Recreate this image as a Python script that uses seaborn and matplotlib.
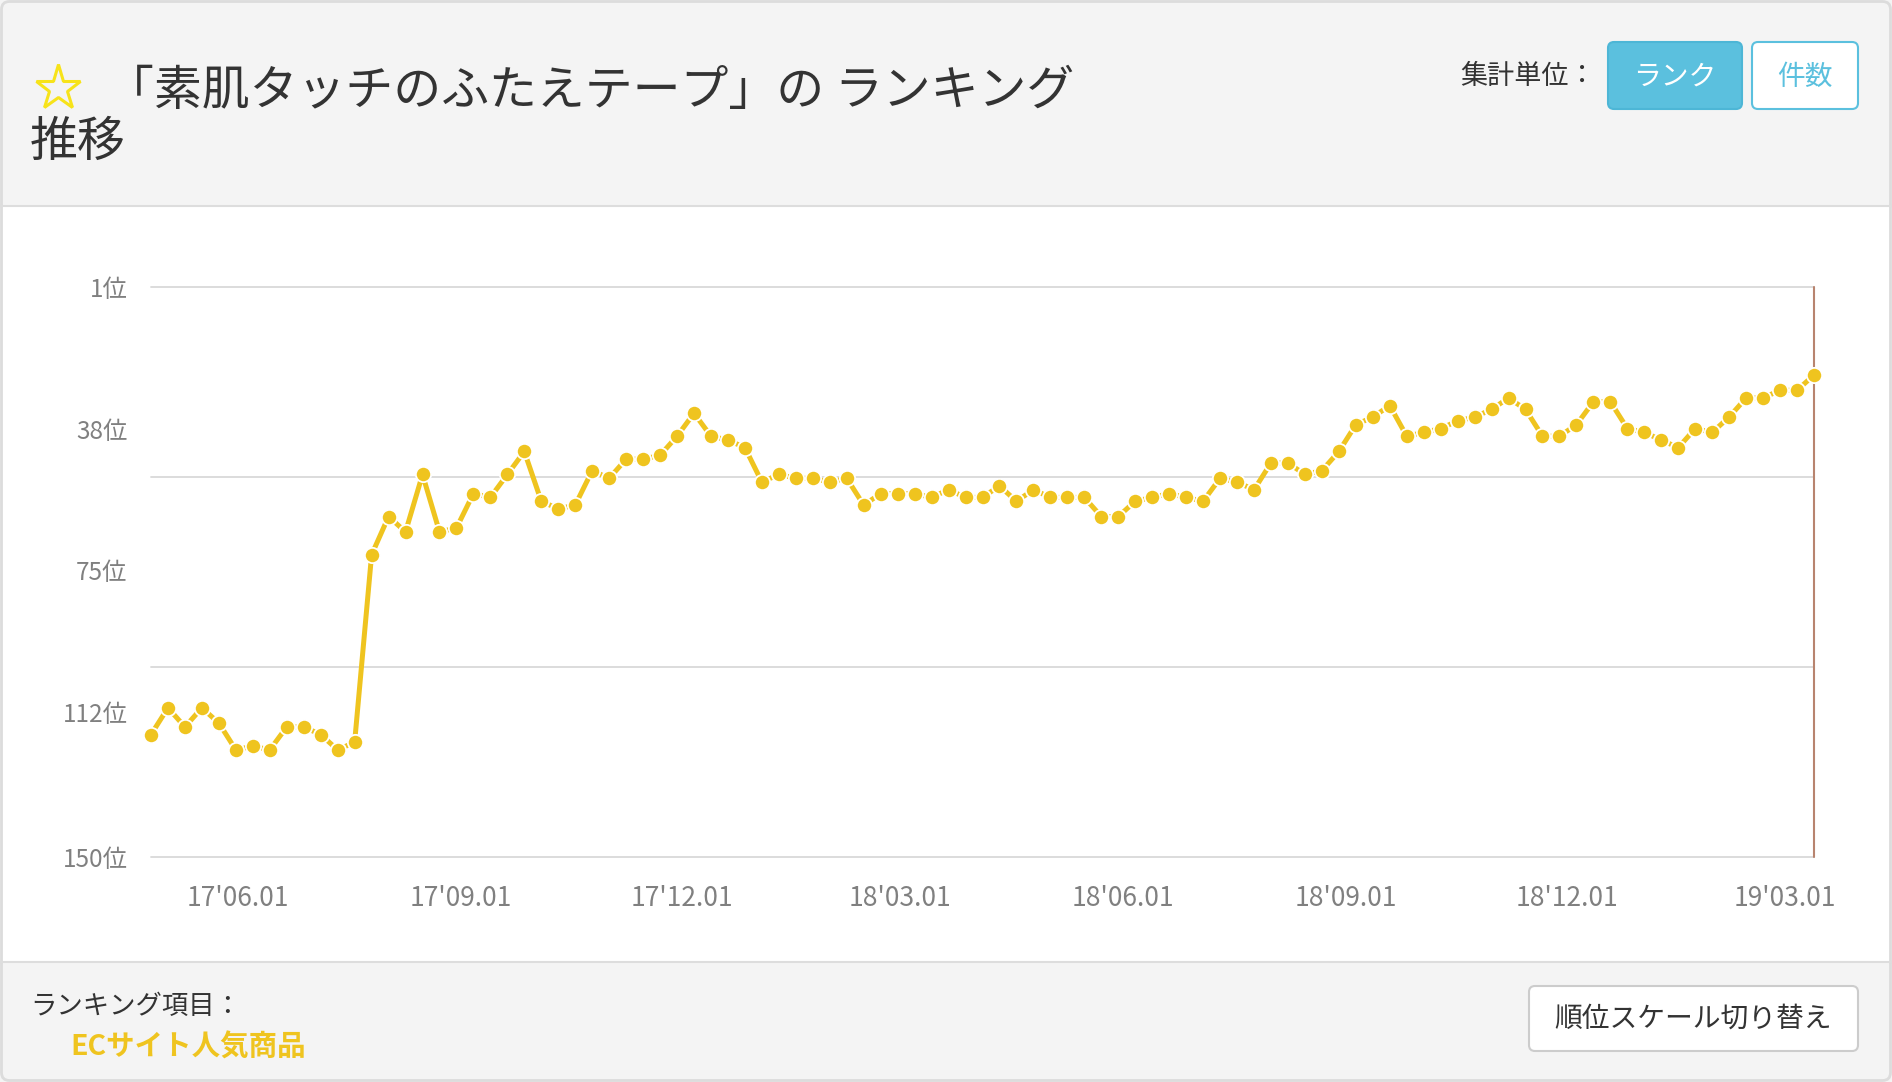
import numpy as np
import pandas as pd
import matplotlib
matplotlib.use("Agg")
import matplotlib.pyplot as plt
import seaborn as sns
from matplotlib.patches import FancyBboxPatch, Rectangle

# ---------------- data ----------------
start_date = "2017-04-26"
ranks = [118, 111, 116, 111, 115, 122, 121, 122, 116, 116,
         118, 122, 120, 71, 61, 65, 50, 65, 64, 55,
         56, 50, 44, 57, 59, 58, 49, 51, 46, 46,
         45, 40, 34, 40, 41, 43, 52, 50, 51, 51,
         52, 51, 58, 55, 55, 55, 56, 54, 56, 56,
         53, 57, 54, 56, 56, 56, 61, 61, 57, 56,
         55, 56, 57, 51, 52, 54, 47, 47, 50, 49,
         44, 37, 35, 32, 40, 39, 38, 36, 35, 33,
         30, 33, 40, 40, 37, 31, 31, 38, 39, 41,
         43, 38, 39, 35, 30, 30, 28, 28, 24]
dates = pd.date_range(start_date, periods=len(ranks), freq="7D")

x_tick_dates = ["2017-06-01", "2017-09-01", "2017-12-01", "2018-03-01",
                "2018-06-01", "2018-09-01", "2018-12-01", "2019-03-01"]
x_tick_labels = ["17'06.01", "17'09.01", "17'12.01", "18'03.01",
                 "18'06.01", "18'09.01", "18'12.01", "19'03.01"]
y_ticks = [1, 38, 75, 112, 150]
y_tick_labels = ["1位", "38位", "75位", "112位", "150位"]

title_line1 = "「素肌タッチのふたえテープ」の ランキング"
title_line2 = "推移"
unit_label = "集計単位："
btn_rank = "ランク"
btn_count = "件数"
footer_label = "ランキング項目："
footer_item = "ECサイト人気商品"
scale_btn = "順位スケール切り替え"

df = pd.DataFrame({"date": dates, "rank": ranks})

# ---------------- style ----------------
sns.set_theme(style="white")
plt.rcParams["font.family"] = ["Noto Sans CJK JP", "DejaVu Sans"]

W, H = 1892, 1082
fig = plt.figure(figsize=(W / 100, H / 100), dpi=100)
fig.patch.set_facecolor("white")

# background / decoration axes in pixel coordinates
bg = fig.add_axes([0, 0, 1, 1], zorder=0)
bg.set_xlim(0, W)
bg.set_ylim(H, 0)
bg.axis("off")

bg.add_patch(Rectangle((0, 0), W, 206, facecolor="#f4f4f4", edgecolor="none"))
bg.add_patch(Rectangle((0, 962), W, H - 962, facecolor="#f4f4f4", edgecolor="none"))
bg.plot([0, W], [206, 206], color="#dddddd", lw=1.5)
bg.plot([0, W], [962, 962], color="#dddddd", lw=1.5)
bg.add_patch(FancyBboxPatch((1.5, 1.5), W - 3, H - 3,
                            boxstyle="round,pad=0,rounding_size=8",
                            facecolor="none", edgecolor="#dcdcdc", lw=2))

yellow = "#EFC41F"

# star
bg.plot([58], [88], marker="*", markersize=34, markerfacecolor="none",
        markeredgecolor="#f7e31a", markeredgewidth=2.2)
bg.text(106, 91, title_line1, fontsize=34.5, color="#333333", va="center", ha="left")
bg.text(30, 142, title_line2, fontsize=34.5, color="#333333", va="center", ha="left")

bg.text(1460, 76, unit_label, fontsize=19.5, color="#333333", va="center", ha="left")
bg.add_patch(FancyBboxPatch((1608, 42), 134, 67,
                            boxstyle="round,pad=0,rounding_size=6",
                            facecolor="#5bc0de", edgecolor="#4db6d6", lw=1.5))
bg.text(1675, 77, btn_rank, fontsize=20, color="white", va="center", ha="center")
bg.add_patch(FancyBboxPatch((1752, 42), 106, 67,
                            boxstyle="round,pad=0,rounding_size=6",
                            facecolor="white", edgecolor="#5bc0de", lw=1.5))
bg.text(1805, 77, btn_count, fontsize=20, color="#5bc0de", va="center", ha="center")

bg.text(30, 1007, footer_label, fontsize=19, color="#333333", va="center", ha="left")
bg.text(70, 1048, footer_item, fontsize=20.5, color=yellow, fontweight="bold",
        va="center", ha="left")
bg.add_patch(FancyBboxPatch((1529, 986), 329, 65,
                            boxstyle="round,pad=0,rounding_size=6",
                            facecolor="white", edgecolor="#cccccc", lw=1.5))
bg.text(1693, 1019, scale_btn, fontsize=20, color="#333333", va="center", ha="center")

# ---------------- main chart ----------------
left, right, top, bottom = 151, 1814, 287, 857
ax = fig.add_axes([left / W, 1 - bottom / H, (right - left) / W, (bottom - top) / H],
                  zorder=2)
ax.set_facecolor("none")

for g in np.linspace(1, 150, 4):
    ax.axhline(g, color="#d9d9d9", lw=1.3, zorder=1)
ax.axvline(dates[-1], color="#b8846f", lw=1.5, zorder=1)

sns.lineplot(data=df, x="date", y="rank", ax=ax, color=yellow, lw=3.6,
             marker="o", markersize=11, markeredgecolor="white",
             markeredgewidth=1.3, zorder=3)
for ln in ax.lines:
    ln.set_clip_on(False)

ax.set_xlim(dates[0], dates[-1])
ax.set_ylim(150, 1)
ax.set_yticks(y_ticks)
ax.set_yticklabels(y_tick_labels)
ax.set_xticks(pd.to_datetime(x_tick_dates))
ax.set_xticklabels(x_tick_labels)
ax.tick_params(axis="y", length=0, pad=17, labelsize=17.5, labelcolor="#808080")
ax.tick_params(axis="x", length=0, pad=20, labelsize=19, labelcolor="#808080")
ax.set_xlabel("")
ax.set_ylabel("")
for s in ax.spines.values():
    s.set_visible(False)
ax.grid(False)

fig.savefig("out.png", dpi=100, facecolor=fig.get_facecolor())
